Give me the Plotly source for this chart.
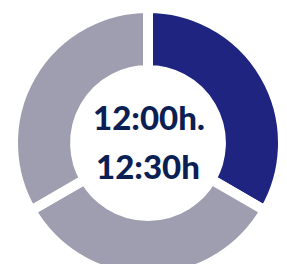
import plotly.graph_objects as go

labels = ["Franja 1", "Franja 2", "Franja 3"]
values = [1, 1, 1]
colors = ["#1E2480", "#9E9EB0", "#9E9EB0"]
center_lines = ["12:00h.", "12:30h"]

W, H = 287, 284
cx, cy, R = 148, 143, 135

fig = go.Figure(go.Pie(
    labels=labels, values=values, sort=False, direction="clockwise", rotation=0,
    hole=0.54, textinfo="none", hoverinfo="label",
    marker=dict(colors=colors, line=dict(color="white", width=10)),
    domain=dict(x=[(cx - R) / W, (cx + R) / W], y=[(H - cy - R) / H, (H - cy + R) / H]),
    showlegend=False,
))

font = dict(family="Lato", size=33, color="#0B1F55", weight=900)
fig.add_annotation(text=center_lines[0], x=cx / W + 0.005, y=(H - 117) / H,
                   xref="paper", yref="paper", showarrow=False, font=font)
fig.add_annotation(text=center_lines[1], x=cx / W, y=(H - 166) / H,
                   xref="paper", yref="paper", showarrow=False, font=font)

fig.update_layout(width=W, height=H, margin=dict(l=0, r=0, t=0, b=0),
                  paper_bgcolor="white", plot_bgcolor="white")
fig.write_html("out.html", config={"displayModeBar": False},
               post_script="document.body.style.margin='0';document.body.style.overflow='hidden';")
